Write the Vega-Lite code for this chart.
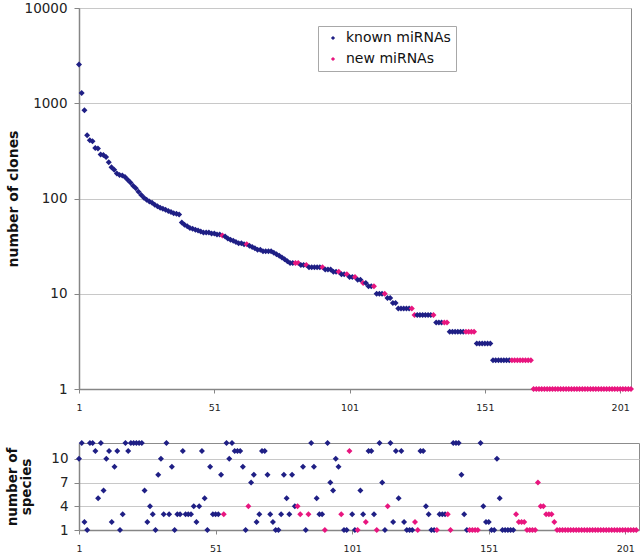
{
  "$schema": "https://vega.github.io/schema/vega-lite/v6.json",
  "padding": {"left": 4, "top": 0, "right": 0, "bottom": 0},
  "background": "white",
  "spacing": 27,
  "data": {"values": [
    {"rank":1,"clones":2550,"species":10,"type":"known miRNAs"},
    {"rank":2,"clones":1280,"species":12,"type":"known miRNAs"},
    {"rank":3,"clones":845,"species":2,"type":"known miRNAs"},
    {"rank":4,"clones":460,"species":1,"type":"known miRNAs"},
    {"rank":5,"clones":408,"species":12,"type":"known miRNAs"},
    {"rank":6,"clones":398,"species":12,"type":"known miRNAs"},
    {"rank":7,"clones":338,"species":11,"type":"known miRNAs"},
    {"rank":8,"clones":335,"species":5,"type":"known miRNAs"},
    {"rank":9,"clones":290,"species":12,"type":"known miRNAs"},
    {"rank":10,"clones":286,"species":6,"type":"known miRNAs"},
    {"rank":11,"clones":272,"species":10,"type":"known miRNAs"},
    {"rank":12,"clones":240,"species":11,"type":"known miRNAs"},
    {"rank":13,"clones":213,"species":2,"type":"known miRNAs"},
    {"rank":14,"clones":200,"species":9,"type":"known miRNAs"},
    {"rank":15,"clones":183,"species":11,"type":"known miRNAs"},
    {"rank":16,"clones":177,"species":1,"type":"known miRNAs"},
    {"rank":17,"clones":174,"species":3,"type":"known miRNAs"},
    {"rank":18,"clones":168,"species":12,"type":"known miRNAs"},
    {"rank":19,"clones":157,"species":11,"type":"known miRNAs"},
    {"rank":20,"clones":147,"species":12,"type":"known miRNAs"},
    {"rank":21,"clones":136,"species":12,"type":"known miRNAs"},
    {"rank":22,"clones":128,"species":12,"type":"known miRNAs"},
    {"rank":23,"clones":118,"species":12,"type":"known miRNAs"},
    {"rank":24,"clones":109,"species":12,"type":"known miRNAs"},
    {"rank":25,"clones":102,"species":6,"type":"known miRNAs"},
    {"rank":26,"clones":97,"species":2,"type":"known miRNAs"},
    {"rank":27,"clones":93,"species":4,"type":"known miRNAs"},
    {"rank":28,"clones":90,"species":3,"type":"known miRNAs"},
    {"rank":29,"clones":86,"species":1,"type":"known miRNAs"},
    {"rank":30,"clones":83,"species":8,"type":"known miRNAs"},
    {"rank":31,"clones":80,"species":10,"type":"known miRNAs"},
    {"rank":32,"clones":78,"species":3,"type":"known miRNAs"},
    {"rank":33,"clones":76,"species":12,"type":"known miRNAs"},
    {"rank":34,"clones":74,"species":3,"type":"known miRNAs"},
    {"rank":35,"clones":72,"species":9,"type":"known miRNAs"},
    {"rank":36,"clones":70,"species":1,"type":"known miRNAs"},
    {"rank":37,"clones":69,"species":3,"type":"known miRNAs"},
    {"rank":38,"clones":68,"species":3,"type":"known miRNAs"},
    {"rank":39,"clones":56,"species":11,"type":"known miRNAs"},
    {"rank":40,"clones":53,"species":3,"type":"known miRNAs"},
    {"rank":41,"clones":51,"species":3,"type":"known miRNAs"},
    {"rank":42,"clones":49,"species":3,"type":"known miRNAs"},
    {"rank":43,"clones":48,"species":4,"type":"known miRNAs"},
    {"rank":44,"clones":47,"species":2,"type":"known miRNAs"},
    {"rank":45,"clones":46,"species":4,"type":"known miRNAs"},
    {"rank":46,"clones":45,"species":11,"type":"known miRNAs"},
    {"rank":47,"clones":44,"species":5,"type":"known miRNAs"},
    {"rank":48,"clones":44,"species":1,"type":"known miRNAs"},
    {"rank":49,"clones":44,"species":9,"type":"known miRNAs"},
    {"rank":50,"clones":43,"species":3,"type":"known miRNAs"},
    {"rank":51,"clones":43,"species":3,"type":"known miRNAs"},
    {"rank":52,"clones":42,"species":3,"type":"known miRNAs"},
    {"rank":53,"clones":42,"species":8,"type":"known miRNAs"},
    {"rank":54,"clones":41,"species":3,"type":"new miRNAs"},
    {"rank":55,"clones":40,"species":12,"type":"known miRNAs"},
    {"rank":56,"clones":38,"species":10,"type":"known miRNAs"},
    {"rank":57,"clones":37,"species":12,"type":"known miRNAs"},
    {"rank":58,"clones":36,"species":11,"type":"known miRNAs"},
    {"rank":59,"clones":35,"species":11,"type":"known miRNAs"},
    {"rank":60,"clones":34,"species":11,"type":"known miRNAs"},
    {"rank":61,"clones":34,"species":9,"type":"known miRNAs"},
    {"rank":62,"clones":33,"species":1,"type":"known miRNAs"},
    {"rank":63,"clones":33,"species":4,"type":"new miRNAs"},
    {"rank":64,"clones":32,"species":7,"type":"known miRNAs"},
    {"rank":65,"clones":31,"species":8,"type":"known miRNAs"},
    {"rank":66,"clones":30,"species":2,"type":"known miRNAs"},
    {"rank":67,"clones":29,"species":3,"type":"known miRNAs"},
    {"rank":68,"clones":29,"species":11,"type":"known miRNAs"},
    {"rank":69,"clones":28,"species":11,"type":"known miRNAs"},
    {"rank":70,"clones":28,"species":8,"type":"known miRNAs"},
    {"rank":71,"clones":28,"species":3,"type":"known miRNAs"},
    {"rank":72,"clones":28,"species":2,"type":"known miRNAs"},
    {"rank":73,"clones":27,"species":1,"type":"known miRNAs"},
    {"rank":74,"clones":26,"species":1,"type":"known miRNAs"},
    {"rank":75,"clones":25,"species":3,"type":"known miRNAs"},
    {"rank":76,"clones":24,"species":8,"type":"known miRNAs"},
    {"rank":77,"clones":23,"species":5,"type":"known miRNAs"},
    {"rank":78,"clones":22,"species":3,"type":"known miRNAs"},
    {"rank":79,"clones":21,"species":8,"type":"known miRNAs"},
    {"rank":80,"clones":21,"species":4,"type":"known miRNAs"},
    {"rank":81,"clones":21,"species":4,"type":"new miRNAs"},
    {"rank":82,"clones":21,"species":3,"type":"new miRNAs"},
    {"rank":83,"clones":20,"species":9,"type":"known miRNAs"},
    {"rank":84,"clones":20,"species":1,"type":"known miRNAs"},
    {"rank":85,"clones":20,"species":3,"type":"new miRNAs"},
    {"rank":86,"clones":19,"species":12,"type":"known miRNAs"},
    {"rank":87,"clones":19,"species":9,"type":"known miRNAs"},
    {"rank":88,"clones":19,"species":5,"type":"known miRNAs"},
    {"rank":89,"clones":19,"species":3,"type":"known miRNAs"},
    {"rank":90,"clones":19,"species":3,"type":"known miRNAs"},
    {"rank":91,"clones":19,"species":1,"type":"new miRNAs"},
    {"rank":92,"clones":18,"species":12,"type":"known miRNAs"},
    {"rank":93,"clones":18,"species":7,"type":"known miRNAs"},
    {"rank":94,"clones":18,"species":6,"type":"known miRNAs"},
    {"rank":95,"clones":17,"species":10,"type":"known miRNAs"},
    {"rank":96,"clones":17,"species":9,"type":"known miRNAs"},
    {"rank":97,"clones":17,"species":3,"type":"new miRNAs"},
    {"rank":98,"clones":16,"species":1,"type":"known miRNAs"},
    {"rank":99,"clones":16,"species":1,"type":"known miRNAs"},
    {"rank":100,"clones":16,"species":11,"type":"new miRNAs"},
    {"rank":101,"clones":15,"species":3,"type":"known miRNAs"},
    {"rank":102,"clones":15,"species":1,"type":"known miRNAs"},
    {"rank":103,"clones":15,"species":1,"type":"new miRNAs"},
    {"rank":104,"clones":14,"species":6,"type":"known miRNAs"},
    {"rank":105,"clones":14,"species":3,"type":"known miRNAs"},
    {"rank":106,"clones":13,"species":2,"type":"new miRNAs"},
    {"rank":107,"clones":13,"species":11,"type":"known miRNAs"},
    {"rank":108,"clones":12,"species":11,"type":"known miRNAs"},
    {"rank":109,"clones":12,"species":3,"type":"known miRNAs"},
    {"rank":110,"clones":12,"species":1,"type":"new miRNAs"},
    {"rank":111,"clones":10,"species":12,"type":"known miRNAs"},
    {"rank":112,"clones":10,"species":7,"type":"known miRNAs"},
    {"rank":113,"clones":10,"species":1,"type":"known miRNAs"},
    {"rank":114,"clones":10,"species":4,"type":"new miRNAs"},
    {"rank":115,"clones":9,"species":12,"type":"known miRNAs"},
    {"rank":116,"clones":9,"species":2,"type":"known miRNAs"},
    {"rank":117,"clones":8,"species":11,"type":"known miRNAs"},
    {"rank":118,"clones":8,"species":5,"type":"known miRNAs"},
    {"rank":119,"clones":7,"species":11,"type":"known miRNAs"},
    {"rank":120,"clones":7,"species":2,"type":"known miRNAs"},
    {"rank":121,"clones":7,"species":1,"type":"known miRNAs"},
    {"rank":122,"clones":7,"species":1,"type":"known miRNAs"},
    {"rank":123,"clones":7,"species":1,"type":"known miRNAs"},
    {"rank":124,"clones":7,"species":2,"type":"new miRNAs"},
    {"rank":125,"clones":6,"species":1,"type":"new miRNAs"},
    {"rank":126,"clones":6,"species":11,"type":"known miRNAs"},
    {"rank":127,"clones":6,"species":11,"type":"known miRNAs"},
    {"rank":128,"clones":6,"species":4,"type":"known miRNAs"},
    {"rank":129,"clones":6,"species":3,"type":"known miRNAs"},
    {"rank":130,"clones":6,"species":1,"type":"known miRNAs"},
    {"rank":131,"clones":6,"species":1,"type":"known miRNAs"},
    {"rank":132,"clones":6,"species":1,"type":"new miRNAs"},
    {"rank":133,"clones":5,"species":3,"type":"known miRNAs"},
    {"rank":134,"clones":5,"species":3,"type":"known miRNAs"},
    {"rank":135,"clones":5,"species":3,"type":"known miRNAs"},
    {"rank":136,"clones":5,"species":3,"type":"new miRNAs"},
    {"rank":137,"clones":5,"species":1,"type":"new miRNAs"},
    {"rank":138,"clones":4,"species":12,"type":"known miRNAs"},
    {"rank":139,"clones":4,"species":12,"type":"known miRNAs"},
    {"rank":140,"clones":4,"species":12,"type":"known miRNAs"},
    {"rank":141,"clones":4,"species":8,"type":"known miRNAs"},
    {"rank":142,"clones":4,"species":3,"type":"known miRNAs"},
    {"rank":143,"clones":4,"species":1,"type":"known miRNAs"},
    {"rank":144,"clones":4,"species":1,"type":"new miRNAs"},
    {"rank":145,"clones":4,"species":1,"type":"new miRNAs"},
    {"rank":146,"clones":4,"species":1,"type":"new miRNAs"},
    {"rank":147,"clones":4,"species":1,"type":"new miRNAs"},
    {"rank":148,"clones":3,"species":12,"type":"known miRNAs"},
    {"rank":149,"clones":3,"species":4,"type":"known miRNAs"},
    {"rank":150,"clones":3,"species":2,"type":"known miRNAs"},
    {"rank":151,"clones":3,"species":2,"type":"known miRNAs"},
    {"rank":152,"clones":3,"species":1,"type":"known miRNAs"},
    {"rank":153,"clones":3,"species":1,"type":"known miRNAs"},
    {"rank":154,"clones":2,"species":10,"type":"known miRNAs"},
    {"rank":155,"clones":2,"species":5,"type":"known miRNAs"},
    {"rank":156,"clones":2,"species":1,"type":"known miRNAs"},
    {"rank":157,"clones":2,"species":1,"type":"known miRNAs"},
    {"rank":158,"clones":2,"species":1,"type":"known miRNAs"},
    {"rank":159,"clones":2,"species":1,"type":"known miRNAs"},
    {"rank":160,"clones":2,"species":1,"type":"known miRNAs"},
    {"rank":161,"clones":2,"species":3,"type":"new miRNAs"},
    {"rank":162,"clones":2,"species":2,"type":"new miRNAs"},
    {"rank":163,"clones":2,"species":2,"type":"new miRNAs"},
    {"rank":164,"clones":2,"species":2,"type":"new miRNAs"},
    {"rank":165,"clones":2,"species":1,"type":"new miRNAs"},
    {"rank":166,"clones":2,"species":1,"type":"new miRNAs"},
    {"rank":167,"clones":2,"species":1,"type":"new miRNAs"},
    {"rank":168,"clones":2,"species":1,"type":"new miRNAs"},
    {"rank":169,"clones":1,"species":7,"type":"new miRNAs"},
    {"rank":170,"clones":1,"species":4,"type":"new miRNAs"},
    {"rank":171,"clones":1,"species":4,"type":"new miRNAs"},
    {"rank":172,"clones":1,"species":3,"type":"new miRNAs"},
    {"rank":173,"clones":1,"species":3,"type":"new miRNAs"},
    {"rank":174,"clones":1,"species":3,"type":"new miRNAs"},
    {"rank":175,"clones":1,"species":2,"type":"new miRNAs"},
    {"rank":176,"clones":1,"species":1,"type":"new miRNAs"},
    {"rank":177,"clones":1,"species":1,"type":"new miRNAs"},
    {"rank":178,"clones":1,"species":1,"type":"new miRNAs"},
    {"rank":179,"clones":1,"species":1,"type":"new miRNAs"},
    {"rank":180,"clones":1,"species":1,"type":"new miRNAs"},
    {"rank":181,"clones":1,"species":1,"type":"new miRNAs"},
    {"rank":182,"clones":1,"species":1,"type":"new miRNAs"},
    {"rank":183,"clones":1,"species":1,"type":"new miRNAs"},
    {"rank":184,"clones":1,"species":1,"type":"new miRNAs"},
    {"rank":185,"clones":1,"species":1,"type":"new miRNAs"},
    {"rank":186,"clones":1,"species":1,"type":"new miRNAs"},
    {"rank":187,"clones":1,"species":1,"type":"new miRNAs"},
    {"rank":188,"clones":1,"species":1,"type":"new miRNAs"},
    {"rank":189,"clones":1,"species":1,"type":"new miRNAs"},
    {"rank":190,"clones":1,"species":1,"type":"new miRNAs"},
    {"rank":191,"clones":1,"species":1,"type":"new miRNAs"},
    {"rank":192,"clones":1,"species":1,"type":"new miRNAs"},
    {"rank":193,"clones":1,"species":1,"type":"new miRNAs"},
    {"rank":194,"clones":1,"species":1,"type":"new miRNAs"},
    {"rank":195,"clones":1,"species":1,"type":"new miRNAs"},
    {"rank":196,"clones":1,"species":1,"type":"new miRNAs"},
    {"rank":197,"clones":1,"species":1,"type":"new miRNAs"},
    {"rank":198,"clones":1,"species":1,"type":"new miRNAs"},
    {"rank":199,"clones":1,"species":1,"type":"new miRNAs"},
    {"rank":200,"clones":1,"species":1,"type":"new miRNAs"},
    {"rank":201,"clones":1,"species":1,"type":"new miRNAs"},
    {"rank":202,"clones":1,"species":1,"type":"new miRNAs"},
    {"rank":203,"clones":1,"species":1,"type":"new miRNAs"},
    {"rank":204,"clones":1,"species":1,"type":"new miRNAs"},
    {"rank":205,"clones":1,"species":1,"type":"new miRNAs"}
  ]},
  "resolve": {"scale": {"x": "independent", "y": "independent", "color": "independent"}, "legend": {"color": "independent"}},
  "vconcat": [
    {
      "width": 552,
      "height": 381,
      "mark": {"type": "point", "shape": "diamond", "filled": true, "size": 36, "opacity": 1},
      "encoding": {
        "x": {"field": "rank", "type": "quantitative",
              "scale": {"domain": [1, 205], "nice": false, "zero": false},
              "axis": {"values": [1, 51, 101, 151, 201], "title": null, "grid": false, "labelFontSize": 9.5, "tickSize": 4, "labelPadding": 9, "labelFlush": false}},
        "y": {"field": "clones", "type": "quantitative",
              "scale": {"type": "log", "domain": [1, 10000], "nice": false},
              "axis": {"values": [1, 10, 100, 1000, 10000], "format": "d", "grid": true, "labelFontSize": 13.5, "tickSize": 5, "labelPadding": 7,
                       "title": "number of clones", "titleFontSize": 14, "titleFontWeight": "bold", "titleAngle": -90, "titleX": -62, "titleY": 190.5, "titleAlign": "center", "titleBaseline": "alphabetic"}},
        "color": {"field": "type", "type": "nominal",
                  "scale": {"domain": ["known miRNAs", "new miRNAs"], "range": ["#1F1F85", "#E8167F"]},
                  "legend": {"orient": "none", "legendX": 239, "legendY": 18, "title": null, "symbolType": "diamond", "symbolSize": 18, "symbolStrokeWidth": 0,
                             "labelFontSize": 14, "labelFont": "DejaVu Sans", "labelColor": "#111", "padding": 5, "rowPadding": 7,
                             "strokeColor": "#a8a8a8", "fillColor": "white", "symbolOffset": 3, "labelOffset": 6}}
      }
    },
    {
      "width": 560,
      "height": 87,
      "mark": {"type": "point", "shape": "diamond", "filled": true, "size": 36, "opacity": 1},
      "encoding": {
        "x": {"field": "rank", "type": "quantitative",
              "scale": {"domain": [1, 206], "nice": false, "zero": false},
              "axis": {"values": [1, 51, 101, 151, 201], "title": null, "grid": false, "labelFontSize": 9.5, "tickSize": 4, "labelPadding": 9, "labelFlush": false}},
        "y": {"field": "species", "type": "quantitative",
              "scale": {"domain": [1, 12], "nice": false, "zero": false},
              "axis": {"values": [1, 4, 7, 10], "grid": true, "labelFontSize": 13.5, "tickSize": 5, "labelPadding": 6,
                       "title": ["number of", "species"], "titleFontSize": 13.5, "titleFontWeight": "bold", "titleAngle": -90, "titleX": -63, "titleY": 43.5, "titleAlign": "center", "titleBaseline": "alphabetic", "titleLineHeight": 14}},
        "color": {"field": "type", "type": "nominal",
                  "scale": {"domain": ["known miRNAs", "new miRNAs"], "range": ["#1F1F85", "#E8167F"]},
                  "legend": null}
      }
    }
  ],
  "config": {
    "font": "DejaVu Sans",
    "view": {"stroke": "#8c8c8c", "strokeWidth": 1},
    "axis": {"labelFont": "DejaVu Sans", "titleFont": "DejaVu Sans", "labelColor": "#222", "titleColor": "#111",
             "domainColor": "#868686", "domainWidth": 1.5, "tickColor": "#868686", "gridColor": "#c8c8c8", "gridWidth": 1}
  }
}
